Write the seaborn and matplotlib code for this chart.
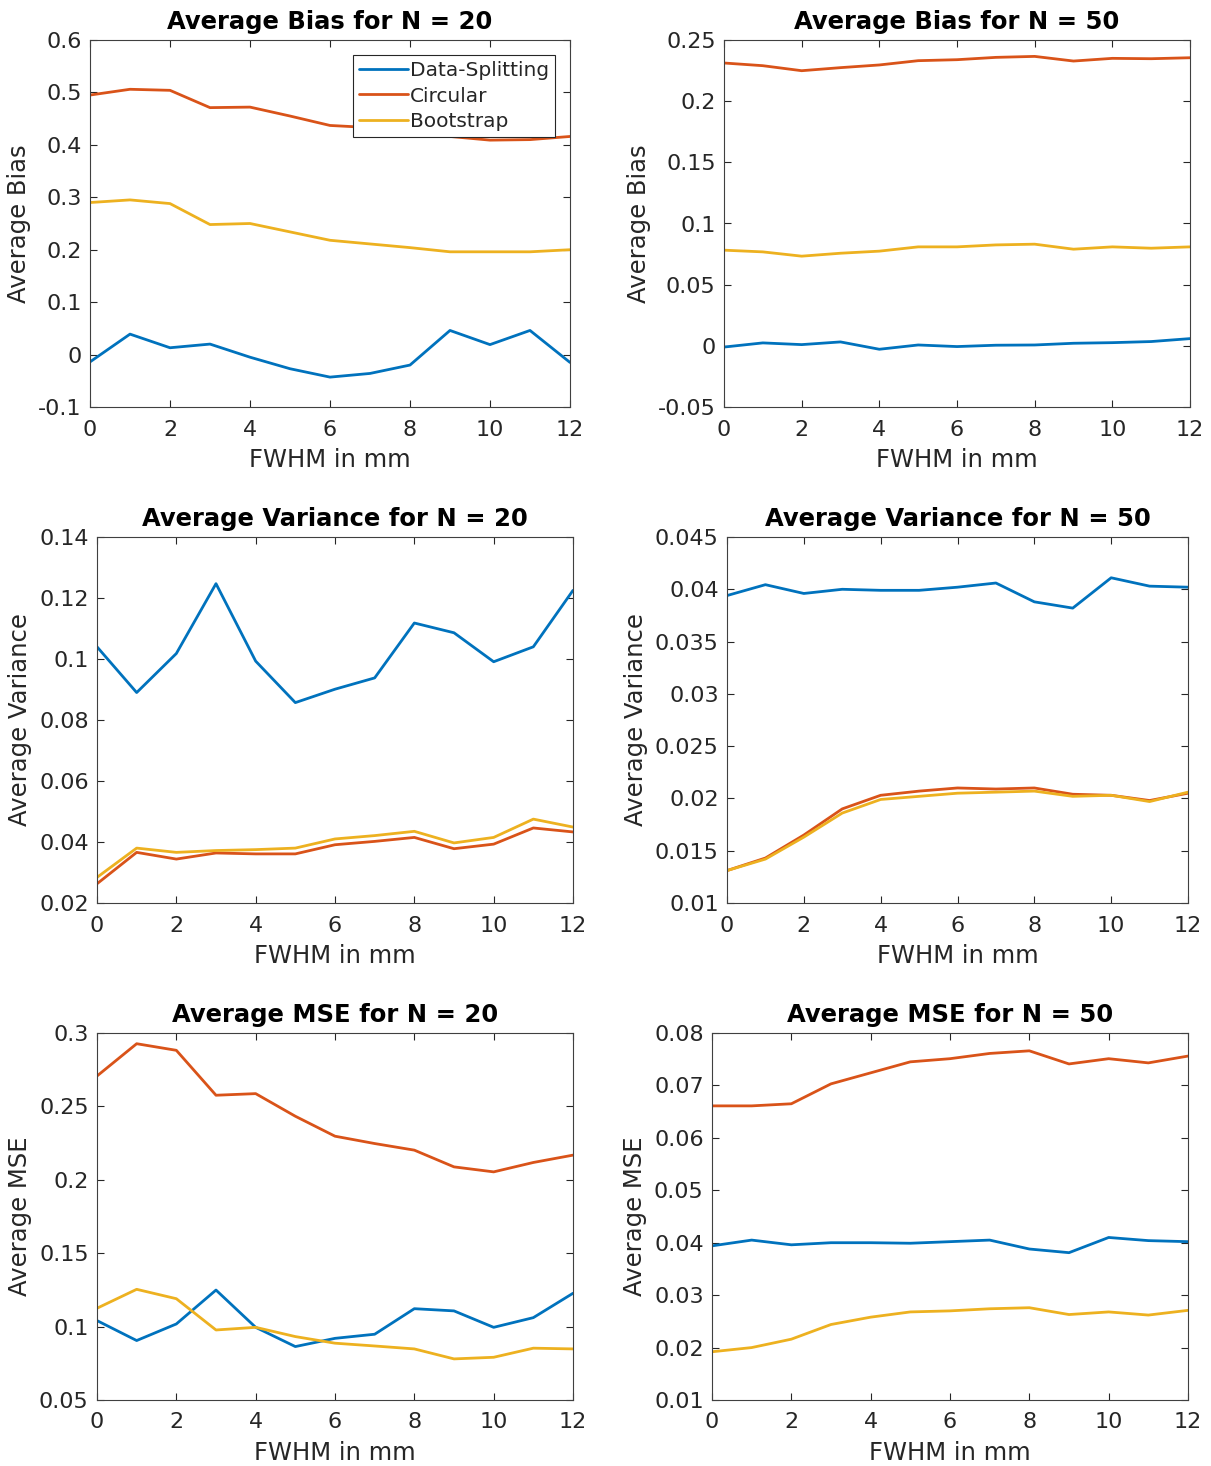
import numpy as np
import pandas as pd
import matplotlib
matplotlib.use('Agg')
import matplotlib.pyplot as plt
import seaborn as sns

fwhm = list(range(13))
methods = ['Data-Splitting', 'Circular', 'Bootstrap']
colors = ['#0072BD', '#D95319', '#EDB120']

bias20_ds = [-0.014, 0.039, 0.013, 0.020, -0.005, -0.027, -0.043, -0.036, -0.020, 0.046, 0.019, 0.046, -0.015]
bias20_circ = [0.495, 0.506, 0.504, 0.471, 0.472, 0.455, 0.437, 0.433, 0.422, 0.416, 0.409, 0.410, 0.416]
bias20_boot = [0.290, 0.295, 0.288, 0.248, 0.250, 0.234, 0.218, 0.211, 0.204, 0.196, 0.196, 0.196, 0.200]

bias50_ds = [-0.001, 0.0024, 0.001, 0.0032, -0.0028, 0.0007, -0.0006, 0.0005, 0.0007, 0.0021, 0.0026, 0.0035, 0.0059]
bias50_circ = [0.2312, 0.2290, 0.2249, 0.2274, 0.2296, 0.2331, 0.2339, 0.2358, 0.2366, 0.2328, 0.2350, 0.2347, 0.2355]
bias50_boot = [0.0782, 0.0768, 0.0733, 0.0757, 0.0774, 0.0809, 0.0809, 0.0825, 0.0831, 0.0790, 0.0809, 0.0798, 0.0809]

var20_ds = [0.104, 0.089, 0.1018, 0.1247, 0.0993, 0.0857, 0.0901, 0.0938, 0.1118, 0.1086, 0.0991, 0.104, 0.1225]
var20_circ = [0.0263, 0.0366, 0.0344, 0.0364, 0.0361, 0.0361, 0.0391, 0.0402, 0.0415, 0.0378, 0.0393, 0.0446, 0.0433]
var20_boot = [0.0284, 0.038, 0.0366, 0.0372, 0.0375, 0.038, 0.041, 0.0421, 0.0435, 0.0397, 0.0415, 0.0475, 0.0449]

var50_ds = [0.0394, 0.04044, 0.0396, 0.0400, 0.0399, 0.0399, 0.0402, 0.0406, 0.0388, 0.0382, 0.0411, 0.0403, 0.0402]
var50_circ = [0.0131, 0.0143, 0.0165, 0.0190, 0.0203, 0.0207, 0.0210, 0.0209, 0.0210, 0.0204, 0.0203, 0.0198, 0.0205]
var50_boot = [0.0131, 0.0142, 0.0163, 0.0186, 0.0199, 0.0202, 0.0205, 0.0206, 0.0207, 0.0202, 0.0203, 0.0197, 0.0206]

mse20_ds = [0.1041, 0.0905, 0.1018, 0.1249, 0.0995, 0.0864, 0.092, 0.0948, 0.1122, 0.1107, 0.0995, 0.1061, 0.1227]
mse20_circ = [0.2707, 0.2927, 0.2882, 0.2576, 0.2587, 0.2433, 0.2297, 0.2247, 0.2202, 0.2088, 0.2054, 0.2118, 0.2168]
mse20_boot = [0.1125, 0.1254, 0.1190, 0.0977, 0.0995, 0.0932, 0.0887, 0.0868, 0.0848, 0.0780, 0.0791, 0.0853, 0.0848]

mse50_ds = [0.0394, 0.0405, 0.0396, 0.0400, 0.0400, 0.0399, 0.0402, 0.0405, 0.0388, 0.0381, 0.0410, 0.0404, 0.0402]
mse50_circ = [0.0661, 0.0661, 0.0665, 0.0703, 0.0724, 0.0745, 0.0751, 0.0761, 0.0766, 0.0741, 0.0751, 0.0743, 0.0756]
mse50_boot = [0.0192, 0.0200, 0.0216, 0.0244, 0.0258, 0.0268, 0.0270, 0.0274, 0.0276, 0.0263, 0.0268, 0.0262, 0.0271]

# title, ylabel, series, ylim, yticks, tick labels, axes box in pixels (left, top, right, bottom)
panels = [
    ('Average Bias for N = 20', 'Average Bias', (bias20_ds, bias20_circ, bias20_boot),
     (-0.1, 0.6), [-0.1, 0, 0.1, 0.2, 0.3, 0.4, 0.5, 0.6],
     ['-0.1', '0', '0.1', '0.2', '0.3', '0.4', '0.5', '0.6'], (90, 40, 570, 407)),
    ('Average Bias for N = 50', 'Average Bias', (bias50_ds, bias50_circ, bias50_boot),
     (-0.05, 0.25), [-0.05, 0, 0.05, 0.1, 0.15, 0.2, 0.25],
     ['-0.05', '0', '0.05', '0.1', '0.15', '0.2', '0.25'], (724, 40, 1190, 407)),
    ('Average Variance for N = 20', 'Average Variance', (var20_ds, var20_circ, var20_boot),
     (0.02, 0.14), [0.02, 0.04, 0.06, 0.08, 0.1, 0.12, 0.14],
     ['0.02', '0.04', '0.06', '0.08', '0.1', '0.12', '0.14'], (97, 537, 573, 903)),
    ('Average Variance for N = 50', 'Average Variance', (var50_ds, var50_circ, var50_boot),
     (0.01, 0.045), [0.01, 0.015, 0.02, 0.025, 0.03, 0.035, 0.04, 0.045],
     ['0.01', '0.015', '0.02', '0.025', '0.03', '0.035', '0.04', '0.045'], (727, 537, 1188, 903)),
    ('Average MSE for N = 20', 'Average MSE', (mse20_ds, mse20_circ, mse20_boot),
     (0.05, 0.3), [0.05, 0.1, 0.15, 0.2, 0.25, 0.3],
     ['0.05', '0.1', '0.15', '0.2', '0.25', '0.3'], (97, 1033, 573, 1400)),
    ('Average MSE for N = 50', 'Average MSE', (mse50_ds, mse50_circ, mse50_boot),
     (0.01, 0.08), [0.01, 0.02, 0.03, 0.04, 0.05, 0.06, 0.07, 0.08],
     ['0.01', '0.02', '0.03', '0.04', '0.05', '0.06', '0.07', '0.08'], (712, 1033, 1188, 1400)),
]

sns.set_style('white')
plt.rcParams['font.family'] = ['DejaVu Sans']
W, H = 1211, 1466
fig = plt.figure(figsize=(W / 100, H / 100), dpi=100)
txt = '#262626'

for i, (title, ylabel, series, ylim, yticks, ylabels, box) in enumerate(panels):
    l, t, r, b = box
    ax = fig.add_axes([l / W, 1 - b / H, (r - l) / W, (b - t) / H])
    df = pd.concat([pd.DataFrame({'FWHM': fwhm, 'value': s, 'method': m})
                    for s, m in zip(series, methods)])
    sns.lineplot(data=df, x='FWHM', y='value', hue='method', hue_order=methods,
                 palette=colors, linewidth=2.0, ax=ax, legend=(i == 0))
    ax.set_xlim(0, 12)
    ax.set_ylim(*ylim)
    ax.set_xticks(range(0, 13, 2))
    ax.set_yticks(yticks)
    ax.set_yticklabels(ylabels)
    ax.tick_params(direction='in', length=5, width=0.8, colors=txt, labelsize=16,
                   top=True, right=True, left=True, bottom=True)
    ax.tick_params(axis='x', pad=9)
    ax.tick_params(axis='y', pad=6)
    for sp in ax.spines.values():
        sp.set_color('#404040')
        sp.set_linewidth(0.8)
    ax.set_title(title, fontsize=17.5, fontweight='bold', color='black', pad=8)
    ax.set_xlabel('FWHM in mm', fontsize=17.5, color=txt, labelpad=6)
    ax.set_ylabel(ylabel, fontsize=17.5, color=txt, labelpad=5)
    if i == 0:
        leg = ax.legend(loc='upper right', bbox_to_anchor=(0.969, 0.959), borderaxespad=0,
                        fontsize=14.5, fancybox=False, framealpha=1, edgecolor='#262626',
                        handlelength=2.4, handletextpad=0.1, labelspacing=0.3,
                        borderpad=0.32, title=None)
        leg.get_frame().set_linewidth(0.8)

fig.savefig('out.png', dpi=100)
